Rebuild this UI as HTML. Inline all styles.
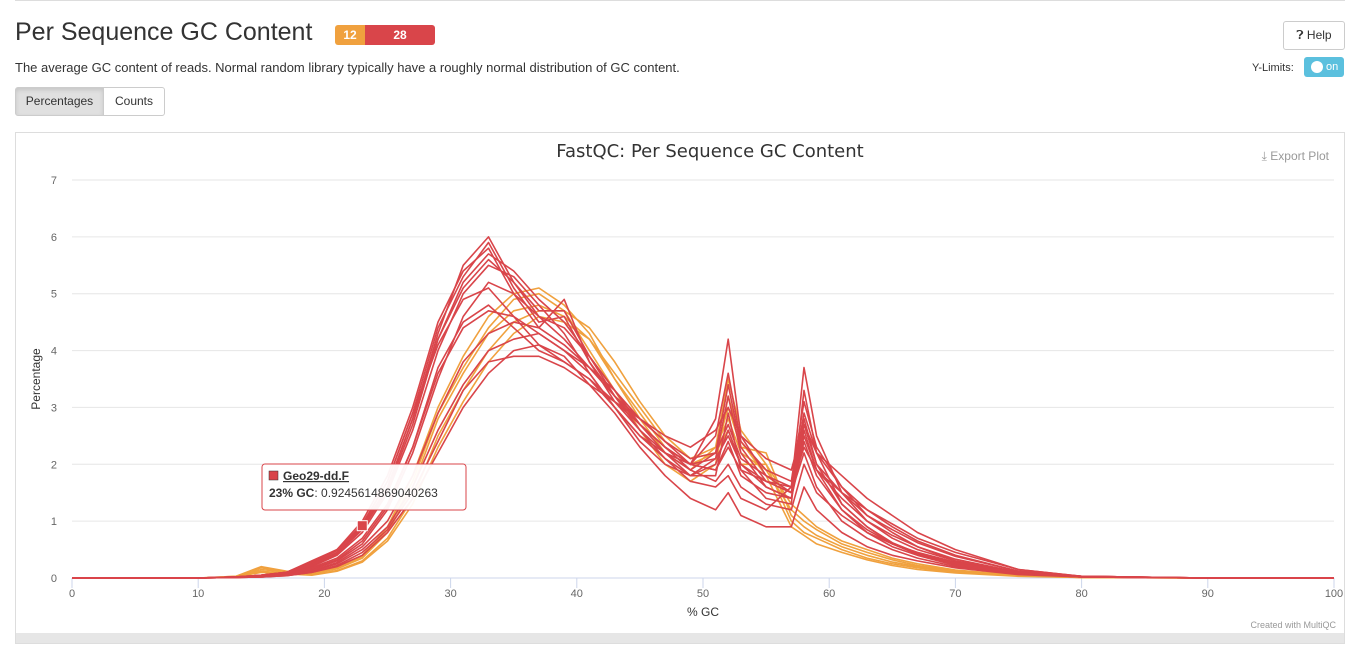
<!DOCTYPE html>
<html><head><meta charset="utf-8">
<style>
body{margin:0;width:1355px;height:657px;background:#fff;font-family:"Liberation Sans",sans-serif;color:#333;position:relative;overflow:hidden}
.abs{position:absolute}
h1{position:absolute;left:15px;top:18px;margin:0;font-size:25px;font-weight:500;color:#333}
.badge{position:absolute;top:25px;height:20px;color:#fff;font-size:12px;font-weight:bold;line-height:20px;text-align:center}
.btn{position:absolute;border:1px solid #ccc;font-size:12px;line-height:27px;text-align:center;background:#fff;color:#333}
</style></head><body>
<div class="abs" style="left:15px;top:0;width:1330px;height:1px;background:#ddd"></div>
<h1>Per Sequence GC Content</h1>
<div class="badge" style="left:335px;width:30px;background:#f0a13e;border-radius:3px 0 0 3px">12</div>
<div class="badge" style="left:365px;width:70px;background:#d9454a;border-radius:0 3px 3px 0">28</div>
<div class="abs" style="left:15px;top:60px;font-size:13px">The average GC content of reads. Normal random library typically have a roughly normal distribution of GC content.</div>
<div class="btn" style="left:15px;top:87px;width:87px;background:#e0e0e0;border-radius:3px 0 0 3px;box-shadow:inset 0 2px 4px rgba(0,0,0,.12)">Percentages</div>
<div class="btn" style="left:103px;top:87px;width:60px;border-radius:0 3px 3px 0">Counts</div>
<div class="btn" style="left:1283px;top:21px;width:60px;border-radius:3px">&#10067;&#xFE0E; Help</div>
<div class="abs" style="left:1252px;top:62px;font-size:11px">Y-Limits:</div>
<div class="abs" style="left:1304px;top:57px;width:40px;height:20px;background:#5bc0de;border-radius:3px;color:#fff;font-size:11px;line-height:20px"><span style="position:absolute;left:7px;top:4px;width:12px;height:12px;border-radius:6px;background:#fff"></span><span style="position:absolute;left:22px">on</span></div>
<div class="abs" style="left:15px;top:132px;width:1328px;height:510px;border:1px solid #ddd"></div>
<div class="abs" style="left:16px;top:633px;width:1328px;height:10px;background:#e6e6e6"></div>
<svg class="abs" style="left:0;top:0" width="1355" height="657" id="chart"></svg>
<script>
const xs=[0,10,13,15,17,19,21,23,25,27,29,31,33,35,37,39,41,43,45,47,49,51,52,53,55,57,58,59,61,63,65,67,70,75,80,90,100];
const red1=[0,0,0.02,0.05,0.1,0.25,0.45,0.9,1.6,2.8,4.3,5.5,6.0,5.2,4.6,4.2,3.7,3.2,2.8,2.4,2.0,2.8,4.2,2.5,1.8,1.5,2.2,1.6,1.0,0.7,0.5,0.35,0.2,0.08,0.02,0,0];
const red2=[0,0,0.02,0.05,0.1,0.3,0.5,1.0,1.8,3.0,4.5,5.4,5.8,5.0,4.4,4.9,3.8,3.1,2.6,2.1,1.7,1.6,1.8,1.4,1.2,1.6,3.7,2.5,1.5,1.0,0.7,0.5,0.3,0.1,0.03,0,0];
const red3=[0,0,0.02,0.04,0.08,0.2,0.4,0.8,1.5,2.6,4.0,5.0,5.5,5.3,4.8,4.3,3.6,3.0,2.4,2.0,1.8,2.1,3.2,2.2,1.6,1.4,2.6,1.9,1.2,0.8,0.55,0.4,0.22,0.08,0.02,0,0];
const red4=[0,0,0.01,0.03,0.06,0.15,0.3,0.6,1.2,2.2,3.5,4.6,5.2,5.0,4.6,4.4,3.9,3.2,2.6,2.2,1.9,1.7,2.0,1.6,1.3,1.2,2.0,1.5,1.1,0.8,0.6,0.45,0.28,0.1,0.03,0,0];
const red5=[0,0,0.01,0.02,0.05,0.12,0.25,0.5,0.9,1.6,2.6,3.4,4.0,4.2,4.3,4.0,3.7,3.3,2.8,2.4,2.1,2.2,2.7,2.1,1.8,1.6,2.9,2.2,1.6,1.2,0.9,0.65,0.4,0.12,0.03,0,0];
const red6=[0,0,0.01,0.02,0.04,0.1,0.2,0.4,0.8,1.4,2.2,3.0,3.6,4.0,4.1,3.8,3.5,3.1,2.7,2.3,2.0,1.9,2.3,1.9,1.7,1.6,2.3,1.9,1.5,1.2,0.95,0.7,0.45,0.15,0.03,0,0];
const red7=[0,0,0.02,0.05,0.1,0.28,0.5,0.92,1.7,2.9,4.1,4.9,5.1,4.6,4.1,3.9,3.4,2.9,2.3,1.8,1.4,1.2,1.5,1.1,0.9,0.9,1.6,1.2,0.8,0.55,0.4,0.3,0.18,0.06,0.02,0,0];
const red8=[0,0,0.01,0.03,0.07,0.18,0.35,0.7,1.3,2.3,3.7,4.5,4.8,4.4,4.0,3.8,3.5,3.0,2.5,2.2,2.0,2.5,3.6,2.4,1.9,1.7,3.1,2.3,1.6,1.1,0.8,0.55,0.3,0.1,0.02,0,0];
const red9=[0,0,0.01,0.02,0.04,0.1,0.22,0.45,0.85,1.5,2.4,3.3,3.8,3.9,3.9,3.7,3.4,3.1,2.8,2.5,2.3,2.6,3.0,2.5,2.1,1.9,2.7,2.2,1.8,1.4,1.1,0.8,0.5,0.15,0.03,0,0];
const red10=[0,0,0.02,0.04,0.09,0.22,0.42,0.85,1.55,2.7,4.2,5.2,5.7,5.4,4.9,4.5,3.9,3.3,2.7,2.3,2.0,1.9,2.4,1.8,1.5,1.4,2.4,1.8,1.2,0.85,0.6,0.42,0.25,0.08,0.02,0,0];
const red11=[0,0,0.02,0.05,0.1,0.27,0.48,0.95,1.7,2.9,4.4,5.3,5.9,5.1,4.5,4.6,3.8,3.2,2.7,2.3,1.9,2.2,3.4,2.3,1.7,1.5,2.8,2.0,1.3,0.9,0.6,0.42,0.24,0.08,0.02,0,0];
const red12=[0,0,0.01,0.03,0.06,0.16,0.32,0.65,1.25,2.3,3.6,4.4,4.7,4.6,4.3,4.0,3.6,3.0,2.5,2.1,1.8,2.0,2.6,2.0,1.6,1.4,2.5,1.9,1.4,1.0,0.75,0.55,0.33,0.1,0.03,0,0];
const red13=[0,0,0.01,0.02,0.05,0.13,0.27,0.55,1.0,1.8,2.9,3.8,4.3,4.5,4.4,4.1,3.7,3.2,2.7,2.3,2.0,2.1,2.5,2.0,1.7,1.5,2.7,2.0,1.5,1.1,0.85,0.62,0.38,0.12,0.03,0,0];
const red14=[0,0,0.02,0.04,0.09,0.24,0.44,0.88,1.6,2.8,4.2,5.1,5.6,5.2,4.7,4.7,3.9,3.3,2.7,2.2,1.8,1.8,2.9,1.9,1.4,1.3,3.3,2.2,1.3,0.9,0.62,0.44,0.26,0.09,0.02,0,0];
const or1=[0,0,0.03,0.2,0.12,0.1,0.2,0.4,0.9,1.8,3.0,3.9,4.6,5.0,5.1,4.8,4.3,3.5,2.8,2.2,1.9,2.3,3.5,2.6,2.0,1.0,0.8,0.7,0.5,0.35,0.25,0.18,0.1,0.04,0.01,0,0];
const or2=[0,0,0.02,0.15,0.1,0.08,0.16,0.35,0.8,1.6,2.8,3.6,4.3,4.7,4.8,4.6,4.2,3.5,2.9,2.3,2.0,2.2,3.0,2.3,2.2,1.1,0.9,0.75,0.55,0.4,0.28,0.2,0.12,0.04,0.01,0,0];
const or3=[0,0,0.02,0.12,0.08,0.06,0.13,0.3,0.7,1.4,2.5,3.3,4.0,4.5,4.7,4.7,4.4,3.8,3.1,2.5,2.1,2.3,2.8,2.2,1.9,1.2,1.0,0.85,0.6,0.45,0.32,0.22,0.13,0.05,0.01,0,0];
const or4=[0,0,0.03,0.18,0.11,0.09,0.18,0.38,0.85,1.7,2.9,3.7,4.4,4.9,5.0,4.7,4.0,3.3,2.6,2.0,1.7,2.0,3.2,2.4,1.8,0.9,0.75,0.6,0.45,0.32,0.22,0.15,0.09,0.03,0.01,0,0];
const or5=[0,0,0.02,0.1,0.07,0.05,0.12,0.28,0.65,1.3,2.3,3.1,3.8,4.3,4.6,4.5,4.2,3.6,3.0,2.4,2.1,2.2,2.6,2.0,2.0,1.3,1.1,0.9,0.65,0.5,0.35,0.25,0.14,0.05,0.01,0,0];
const redSeries=[red1,red2,red3,red4,red5,red6,red7,red8,red9,red10,red11,red12,red13,red14];
const orangeSeries=[or1,or2,or3,or4,or5];
const xTicks=[0,10,20,30,40,50,60,70,80,90,100];
const yTicks=[0,1,2,3,4,5,6,7];
const NS='http://www.w3.org/2000/svg';
const svg=document.getElementById('chart');
const X=v=>72+v*(1334-72)/100;
const Y=v=>578-v*(578-180)/7;
function el(t,a,txt){const e=document.createElementNS(NS,t);for(const k in a)e.setAttribute(k,a[k]);if(txt!=null)e.textContent=txt;svg.appendChild(e);return e;}
yTicks.forEach(t=>{
 const g=el('line',{x1:72,x2:1334,y1:Y(t),y2:Y(t),stroke:t?'#e6e6e6':'#ccd6eb','stroke-width':1});
 
 
 const l=el('text',{x:57,y:Y(t)+4,'text-anchor':'end','font-size':11,fill:'#666','font-family':'Liberation Sans'},t);
 
 
});
xTicks.forEach(t=>{
 const k=el('line',{x1:X(t),x2:X(t),y1:578,y2:588,stroke:'#ccd6eb'});
 
 
 const l=el('text',{x:X(t),y:597,'text-anchor':'middle','font-size':11,fill:'#666','font-family':'Liberation Sans'},t);
 
 
});
function draw(arr,col,name){
 const d=arr.map((v,i)=>(i?'L':'M')+X(xs[i]).toFixed(1)+','+Y(v).toFixed(1)).join('');
 const p=el('path',{d:d,fill:'none',stroke:col,'stroke-width':1.6,'stroke-linejoin':'round'});
 
 
}
orangeSeries.forEach((s,i)=>draw(s,'#f0a13e','warn-series-line'));
redSeries.forEach((s,i)=>draw(s,'#d9454a','fail-series-line'));
const tt=el('text',{x:710,y:157,'text-anchor':'middle','font-size':18,fill:'#333','font-family':'DejaVu Sans'},'FastQC: Per Sequence GC Content');


const xt=el('text',{x:703,y:616,'text-anchor':'middle','font-size':12,fill:'#333','font-family':'Liberation Sans'},'% GC');


const yt=el('text',{x:40,y:379,'text-anchor':'middle','font-size':12,fill:'#333','font-family':'Liberation Sans',transform:'rotate(-90 40 379)'},'Percentage');


const ex=el('text',{x:1329,y:160,'text-anchor':'end','font-size':12,fill:'#999','font-family':'Liberation Sans'},'⤓ Export Plot');


const cr=el('text',{x:1336,y:628,'text-anchor':'end','font-size':9,fill:'#999','font-family':'Liberation Sans'},'Created with MultiQC');


const hv=el('rect',{x:X(23)-5,y:Y(0.92)-5,width:10,height:10,fill:'#d9454a',stroke:'#fff'});


const tb=el('rect',{x:262,y:464,width:204,height:46,rx:3,fill:'rgba(255,255,255,0.95)',stroke:'#d9454a'});


const ts=el('rect',{x:269,y:471,width:9,height:9,fill:'#d9454a',stroke:'#333','stroke-width':0.5});


const t1=el('text',{x:283,y:480,'font-size':12,'font-weight':'bold',fill:'#333','font-family':'Liberation Sans','text-decoration':'underline'},'Geo29-dd.F');


const t2=el('text',{x:269,y:497,'font-size':12,fill:'#333','font-family':'Liberation Sans'});


t2.innerHTML='<tspan font-weight="bold">23% GC</tspan>: 0.9245614869040263';
</script>
</body></html>
